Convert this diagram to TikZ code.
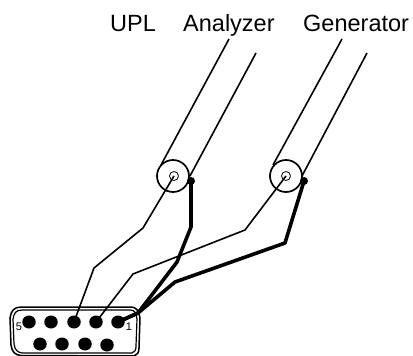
\documentclass[tikz,border=0pt]{standalone}
\usepackage{fontspec}
\setmainfont{Liberation Sans}
\tikzset{
  lbl/.style={inner sep=0pt,anchor=base west,font=\fontsize{23.5}{26}\selectfont,text=black},
  pinnum/.style={inner sep=0pt,font=\fontsize{11}{12}\selectfont},
  ring/.style={circle,draw,line width=1.7pt,minimum size=32pt,inner sep=0pt},
  hole/.style={circle,draw,line width=0.8pt,minimum size=9pt,inner sep=0pt},
  pin/.style={ellipse,fill=black,minimum width=13.5pt,minimum height=13pt,inner sep=0pt},
  solder/.style={circle,fill=black,minimum size=8pt,inner sep=0pt},
  thinw/.style={line width=1.6pt,line join=round},
  thickw/.style={line width=3.6pt,line join=round},
  shield/.style={line width=1.6pt}
}
\usetikzlibrary{shapes.geometric}
\begin{document}
\begin{tikzpicture}[x=1pt,y=-1pt]
\useasboundingbox (0,0) rectangle (413,356);
\node[lbl] (upl) at (110,31) {UPL};
\node[lbl] (ana) at (183,31) {Analyzer};
\node[lbl] (gen) at (303,31) {Generator};
% coax
\node[ring] (c1) at (173,176) {};
\node[hole] (h1) at (174,176) {};
\node[ring] (c2) at (286,176) {};
\node[hole] (h2) at (286,176) {};
\node[solder] (s1) at (191,181) {};
\node[solder] (s2) at (304,181) {};
\coordinate (a1) at (229,39);
\coordinate (a2) at (161,165);
\coordinate (b1) at (256,53);
\coordinate (b2) at (190,176);
\coordinate (d1) at (342,39);
\coordinate (d2) at (273,165);
\coordinate (e1) at (367,53);
\coordinate (e2) at (302,176);
\draw[shield] (a1) -- (a2);
\draw[shield] (b1) -- (b2);
\draw[shield] (d1) -- (d2);
\draw[shield] (e1) -- (e2);
% connector
\draw[line width=1.5pt] (21,307) -- (130,307) .. controls (137,307) and (139,311) .. (140,318) -- (139,348) .. controls (139,353) and (137,355) .. (134,356);
\draw[line width=1.2pt] (22,310) -- (130,310) .. controls (135,310) and (136,313) .. (137,319) -- (136,346) .. controls (136,350) and (135,352) .. (132,353) -- (22,353);
\draw[line width=1.5pt] (21,307) .. controls (14,307) and (11,311) .. (10,318) -- (11,345) .. controls (12,352) and (15,355) .. (21,355.5) -- (134,356);
\draw[line width=1.2pt] (22,310) .. controls (16,310) and (14,313) .. (13,319) -- (14,344) .. controls (15,350) and (17,352) .. (22,353);
\foreach \n/\x/\y in {p5/29/322,p4/51/322,p3/74/322,p2/96/322,p1/118/322,q1/40/344,q2/62/344,q3/85/344,q4/107/345}
  \node[pin] (\n) at (\x,\y) {};
\node[pinnum] (n5) at (19,327) {5};
\node[pinnum] (n1) at (129,327) {1};
% wires
\draw[thinw] (h1.center) -- (143,228) -- (94,268) -- (p3.center);
\draw[thinw] (h2.center) -- (245,230) -- (133,274) -- (p2.center);
\draw[thickw] (s1.center) -- (191,227) -- (177,262) -- (138,313) -- (p1.center);
\draw[thickw] (s2.center) -- (285,243) -- (175,282) -- (138,313) -- (p1.center);
\end{tikzpicture}
\end{document}
